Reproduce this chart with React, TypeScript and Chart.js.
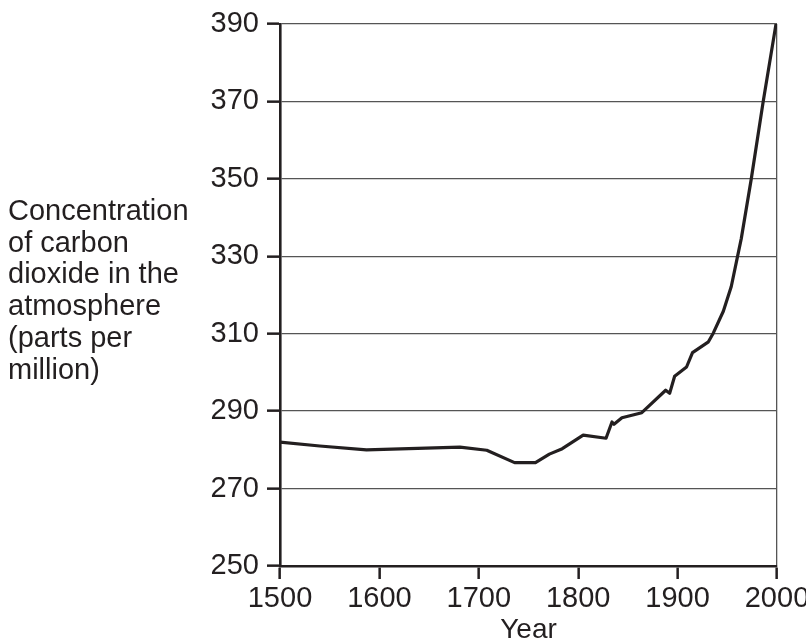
import React, { useEffect, useRef } from "react";
import { Chart, registerables } from "chart.js";

Chart.register(...registerables);

const years = [1500, 1540, 1587, 1681, 1708, 1736, 1757, 1771, 1784, 1805, 1828, 1834, 1836, 1844, 1864, 1888, 1892, 1897, 1909, 1915, 1931, 1936, 1946, 1954, 1960, 1964, 1974, 1986, 1999];
const co2ppm = [282.0, 281.0, 280.0, 280.7, 279.9, 276.7, 276.7, 278.9, 280.3, 283.8, 283.0, 287.2, 286.6, 288.3, 289.6, 295.4, 294.6, 299.0, 301.4, 305.1, 307.9, 310.2, 315.8, 322.2, 329.6, 334.5, 349.8, 369.8, 390.0];

const yAxisTitleLines = ["Concentration", "of carbon", "dioxide in the", "atmosphere", "(parts per", "million)"];
const xAxisTitle = "Year";

const X_MIN = 1500;
const X_MAX = 2000;
const X_STEP = 100;
const Y_MIN = 250;
const Y_MAX = 390;
const Y_STEP = 20;

const INK = "#231f20";
const GRID = "#555555";
const FONT = "'Liberation Sans', Arial, Helvetica, sans-serif";

const leftTitlePlugin = {
  id: "leftTitle",
  afterDraw(chart: any) {
    const { ctx, chartArea } = chart;
    ctx.save();
    ctx.font = `29px ${FONT}`;
    ctx.fillStyle = INK;
    ctx.textAlign = "left";
    ctx.textBaseline = "alphabetic";
    const mid = (chartArea.top + chartArea.bottom) / 2;
    const step = 31.7;
    const first = mid - 75;
    yAxisTitleLines.forEach((line, i) => {
      ctx.fillText(line, 8, first + i * step);
    });
    ctx.restore();
  },
};

export default function App() {
  const canvasRef = useRef<HTMLCanvasElement | null>(null);

  useEffect(() => {
    if (!canvasRef.current) return;
    const points = years.map((yr, i) => ({ x: yr, y: co2ppm[i] }));
    const chart = new Chart(canvasRef.current, {
      type: "line",
      data: {
        datasets: [
          {
            data: points,
            borderColor: INK,
            borderWidth: 3.2,
            pointRadius: 0,
            tension: 0,
            borderJoinStyle: "round",
            borderCapStyle: "round",
            fill: false,
          },
        ],
      },
      options: {
        animation: false,
        responsive: false,
        layout: { padding: { top: 24, right: 29, left: 0, bottom: 0 } },
        plugins: {
          legend: { display: false },
          tooltip: { enabled: false },
        },
        scales: {
          x: {
            type: "linear",
            min: X_MIN,
            max: X_MAX,
            afterFit: (s: any) => {
              s.height = 75;
              s.paddingLeft = 0;
              s.paddingRight = 0;
            },
            ticks: {
              stepSize: X_STEP,
              color: INK,
              padding: 3,
              maxRotation: 0,
              autoSkip: false,
              font: { family: FONT, size: 29 },
              callback: (v: any) => String(v),
            },
            grid: {
              drawOnChartArea: true,
              color: (c: any) => (c.tick && c.tick.value === X_MAX ? GRID : "rgba(0,0,0,0)"),
              lineWidth: 1.3,
              tickColor: INK,
              tickLength: 13,
              tickWidth: 2.5,
            },
            border: { display: true, color: INK, width: 2.6 },
            title: {
              display: true,
              text: xAxisTitle,
              color: INK,
              font: { family: FONT, size: 28, lineHeight: 0.8 },
              padding: 0,
            },
          },
          y: {
            type: "linear",
            min: Y_MIN,
            max: Y_MAX,
            afterFit: (s: any) => {
              s.width = 280;
              s.paddingTop = 0;
              s.paddingBottom = 0;
            },
            ticks: {
              stepSize: Y_STEP,
              color: INK,
              padding: 8,
              font: { family: FONT, size: 29 },
            },
            grid: {
              color: GRID,
              lineWidth: 1.3,
              tickColor: INK,
              tickLength: 13,
              tickWidth: 2.5,
            },
            border: { display: true, color: INK, width: 2.6 },
          },
        },
      },
      plugins: [leftTitlePlugin],
    } as any);
    return () => chart.destroy();
  }, []);

  return (
    <div style={{ position: "absolute", left: 0, top: 0, width: 806, height: 641, background: "#fff" }}>
      <canvas ref={canvasRef} width={806} height={641} style={{ display: "block" }} />
    </div>
  );
}
